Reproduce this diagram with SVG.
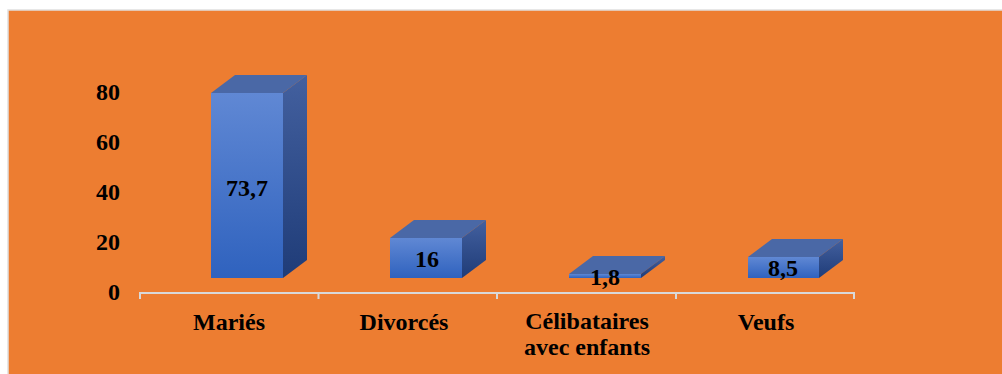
<svg xmlns="http://www.w3.org/2000/svg" width="1002" height="374" viewBox="0 0 1002 374">
<defs>
<linearGradient id="front" x1="0" y1="0" x2="0" y2="1">
<stop offset="0" stop-color="#6088D4"/>
<stop offset="1" stop-color="#2F62BE"/>
</linearGradient>
<linearGradient id="side" x1="0" y1="0" x2="0" y2="1">
<stop offset="0" stop-color="#43609F"/>
<stop offset="1" stop-color="#1F3C78"/>
</linearGradient>
<style>
.t{font-weight:bold;font-size:24px;fill:#000}
.ax{text-anchor:end}
.c{text-anchor:middle}
.fr{fill:url(#front)}
.tp{fill:#4A68A6}
.sd{fill:url(#side)}
.axis{stroke:#D9D9D9;stroke-width:2;fill:none}
</style>
</defs>
<rect x="0" y="0" width="1002" height="374" fill="#FFFFFF"/>
<rect x="8" y="10" width="1000" height="370" fill="#ED7D31" stroke="#E0E0E0" stroke-width="1.5"/>
<g font-family="'Liberation Serif', 'Times New Roman', serif">
<g id="yaxis">
<text class="t ax" x="120" y="100">80</text>
<text class="t ax" x="120" y="150">60</text>
<text class="t ax" x="120" y="200">40</text>
<text class="t ax" x="120" y="250">20</text>
<text class="t ax" x="120" y="300">0</text>
</g>
<g id="connectors">
<path class="axis" d="M140,299 V293 H854 V299 M318.5,293 V299 M497,293 V299 M676,293 V299"/>
</g>
<g id="bar-maries">
<polygon class="tp" points="211,93 235,75 307,75 283,93"/>
<polygon class="sd" points="283,93 307,75 307,260 283,278"/>
<rect class="fr" x="211" y="93" width="72" height="185"/>
<text class="t c" x="247" y="196">73,7</text>
<text class="t c" x="229" y="330">Mariés</text>
</g>
<g id="bar-divorces">
<polygon class="tp" points="390,238 414,220 486,220 462,238"/>
<polygon class="sd" points="462,238 486,220 486,260 462,278"/>
<rect class="fr" x="390" y="238" width="72" height="40"/>
<text class="t c" x="427" y="267">16</text>
<text class="t c" x="404" y="330">Divorcés</text>
</g>
<g id="bar-celibataires">
<polygon class="tp" points="569,274 593,256 665,256 641,274"/>
<polygon class="sd" points="641,274 665,256 665,260 641,278"/>
<rect class="fr" x="569" y="274" width="72" height="4"/>
<text class="t c" x="605" y="285">1,8</text>
<text class="t c" x="587" y="329">Célibataires</text>
<text class="t c" x="587" y="355">avec enfants</text>
</g>
<g id="bar-veufs">
<polygon class="tp" points="748,257 772,239 843,239 819,257"/>
<polygon class="sd" points="819,257 843,239 843,260 819,278"/>
<rect class="fr" x="748" y="257" width="71" height="21"/>
<text class="t c" x="783" y="276">8,5</text>
<text class="t c" x="766" y="330">Veufs</text>
</g>
</g>
</svg>
